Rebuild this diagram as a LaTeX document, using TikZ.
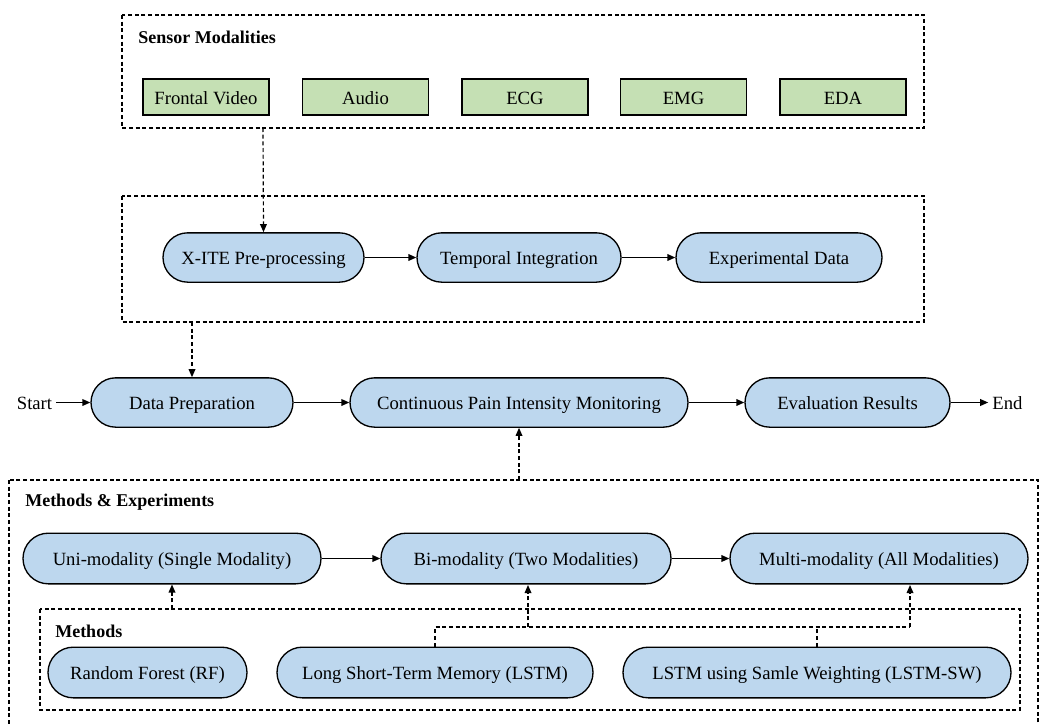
\documentclass[tikz,border=0pt]{standalone}
\usepackage{fontspec}
\setmainfont{Liberation Serif}
\usetikzlibrary{arrows.meta}
\definecolor{pillblue}{HTML}{BDD7EE}
\definecolor{boxgreen}{HTML}{C5E0B4}
\tikzset{
  pill/.style={draw=black, line width=1pt, fill=pillblue, rounded corners=18.5pt,
    minimum height=37pt, inner sep=0pt, text height=12.5pt, text depth=2pt,
    font=\fontsize{14pt}{16pt}\selectfont},
  greenbox/.style={draw=black, line width=1pt, fill=boxgreen, minimum height=27pt,
    minimum width=94.5pt, inner sep=0pt, text height=12.5pt, text depth=2pt,
    font=\fontsize{14pt}{16pt}\selectfont},
  group/.style={draw=black, line width=0.9pt, dash pattern=on 3pt off 2pt},
  title/.style={anchor=west, inner sep=0pt, font=\fontsize{13.5pt}{16pt}\selectfont\bfseries},
  plain/.style={inner ysep=0pt, inner xsep=3pt, text height=12.5pt, text depth=2pt,
    font=\fontsize{14pt}{16pt}\selectfont},
  flow/.style={line width=1.1pt, -{Triangle[length=6pt,width=5pt]}},
  dflow/.style={line width=0.9pt, dash pattern=on 3pt off 2pt, -{Triangle[length=6pt,width=5pt]}},
  dline/.style={line width=0.9pt, dash pattern=on 3pt off 2pt}
}
\begin{document}
\begin{tikzpicture}[x=0.75pt,y=-0.75pt]
\clip (0,0) rectangle (1041,724);
\fill[white] (0,0) rectangle (1041,724);

% Sensor modalities group
\draw[group] (122,15) rectangle (924,128);
\coordinate (sensS) at (263,128);
\node[title] (senst) at (138,37) {Sensor Modalities};
\node[greenbox] (fv) at (206,97) {Frontal Video};
\node[greenbox] (au) at (365.5,97) {Audio};
\node[greenbox] (ecg) at (525,97) {ECG};
\node[greenbox] (emg) at (683.5,97) {EMG};
\node[greenbox] (eda) at (843,97) {EDA};

% Pre-processing group
\draw[group] (122,196) rectangle (924,322);
\coordinate (preS) at (192,322);
\node[pill, minimum width=150.75pt] (xite) at (263.5,257.5) {X-ITE Pre-processing};
\node[pill, minimum width=153pt] (temp) at (519,257.5) {Temporal Integration};
\node[pill, minimum width=154.5pt] (exp) at (779,257.5) {Experimental Data};
\draw[dflow] (sensS) -- (xite.north);
\draw[flow] (xite) -- (temp);
\draw[flow] (temp) -- (exp);

% Main row
\node[plain] (start) at (34.5,402.5) {Start};
\node[pill, minimum width=151.5pt] (dp) at (192,402.5) {Data Preparation};
\node[pill, minimum width=253.5pt] (cpim) at (519,402.5) {Continuous Pain Intensity Monitoring};
\node[pill, minimum width=153.75pt] (er) at (847.5,402.5) {Evaluation Results};
\node[plain] (end) at (1007.5,402.5) {End};
\draw[flow] (start) -- (dp);
\draw[flow] (dp) -- (cpim);
\draw[flow] (cpim) -- (er);
\draw[flow] (er) -- (end);
\draw[dflow] (preS) -- (dp.north);

% Methods & Experiments group
\draw[group] (9,480) rectangle (1038,730);
\coordinate (meN) at (519,480);
\draw[dflow] (meN) -- (cpim.south);
\node[title] (met) at (25,502) {Methods \& Experiments};
\node[pill, minimum width=223.5pt, minimum height=38pt, rounded corners=19pt] (uni) at (172,558.5) {Uni-modality (Single Modality)};
\node[pill, minimum width=217.5pt, minimum height=38pt, rounded corners=19pt] (bi) at (526,558.5) {Bi-modality (Two Modalities)};
\node[pill, minimum width=223.5pt, minimum height=38pt, rounded corners=19pt] (multi) at (879,558.5) {Multi-modality (All Modalities)};
\draw[flow] (uni) -- (bi);
\draw[flow] (bi) -- (multi);

% Methods group
\draw[group] (40,609) rectangle (1020,710);
\node[title] (mt) at (55,631) {Methods};
\node[pill, minimum width=149.25pt, minimum height=38pt, rounded corners=19pt] (rf) at (147.5,672.5) {Random Forest (RF)};
\node[pill, minimum width=237pt, minimum height=38pt, rounded corners=19pt] (lstm) at (435,672.5) {Long Short-Term Memory (LSTM)};
\node[pill, minimum width=291pt, minimum height=38pt, rounded corners=19pt] (lstmsw) at (817,672.5) {LSTM using Samle Weighting (LSTM-SW)};

\coordinate (mN) at (172,609);
\coordinate (j1) at (435,627);
\coordinate (j2) at (817,627);
\coordinate (jb) at (528,627);
\coordinate (jm) at (910,627);
\coordinate (bS) at (528,585);
\coordinate (mS) at (910,585);
\draw[dflow] (mN) -- (uni.south);
\draw[dline] (lstm.north) -- (j1) -- (jm);
\draw[dline] (lstmsw.north) -- (j2);
\draw[dflow] (jb) -- (bS);
\draw[dflow] (jm) -- (mS);
\end{tikzpicture}
\end{document}
